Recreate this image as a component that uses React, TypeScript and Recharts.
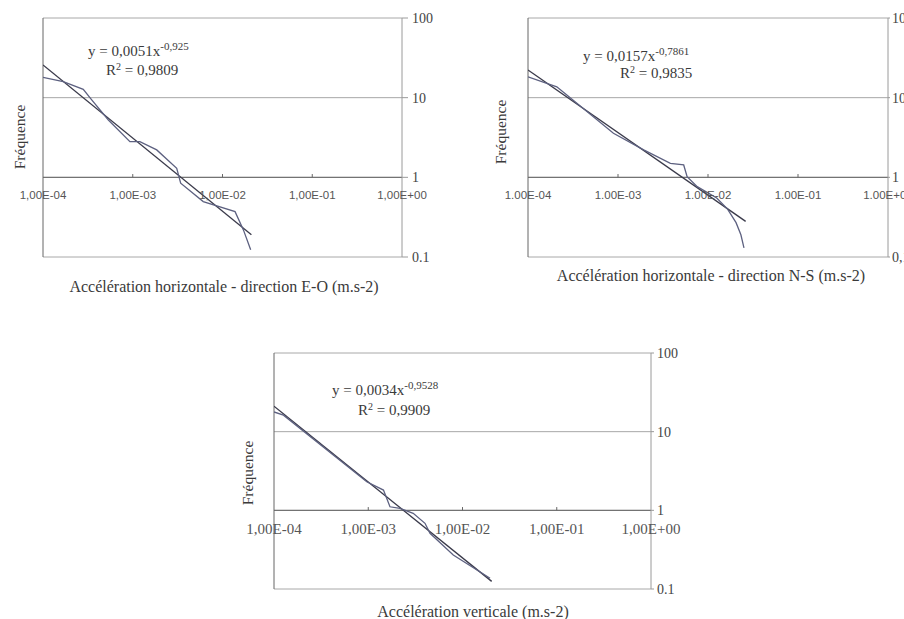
import React from 'react';
import { LineChart, Line, XAxis, YAxis, CartesianGrid, ReferenceLine, ReferenceDot } from 'recharts';

// Shared axis values
const accelTicks = [1e-4, 1e-3, 1e-2, 1e-1, 1];
const minorTickAccel = [1e-3, 1e-2, 1e-1];
const freqTicks = [0.1, 1, 10, 100];
const yLabel = 'Fréquence';

// Panel 1 : E-O
const eoAccel = [1e-4, 1.68e-4, 2.81e-4, 3.49e-4, 5.35e-4, 9.3e-4, 1.2e-3, 1.85e-3, 3.09e-3, 3.42e-3, 6.1e-3, 0.0138, 0.0171, 0.0206];
const eoFreq = [18.0, 15.9, 12.7, 9.36, 5.25, 2.8, 2.8, 2.21, 1.3, 0.843, 0.496, 0.371, 0.219, 0.123];
const eoTrendAccel = [1e-4, 0.021];
const eoTrendFreq = [25.7, 0.19];
const eoXTickLabels = ['1,00E-04', '1,00E-03', '1,00E-02', '1,00E-01', '1,00E+00'];
const eoYTickLabels = ['0.1', '1', '10', '100'];
const eoTitle = 'Accélération horizontale - direction E-O (m.s-2)';
const eoEq = 'y = 0,0051x';
const eoExp = '-0,925';
const eoR2 = '0,9809';

// Panel 2 : N-S
const nsAccel = [1e-4, 2.09e-4, 2.7e-4, 8.9e-4, 1.93e-3, 3.82e-3, 5.37e-3, 5.86e-3, 7.59e-3, 0.0125, 0.0165, 0.0205, 0.0232, 0.0251];
const nsFreq = [18.3, 13.7, 10.8, 3.57, 2.21, 1.5, 1.43, 1.02, 0.764, 0.55, 0.4, 0.27, 0.19, 0.13];
const nsTrendAccel = [1e-4, 0.0262];
const nsTrendFreq = [22.3, 0.28];
const nsXTickLabels = ['1.00E-04', '1.00E-03', '1.00E-02', '1.00E-01', '1.00E+00'];
const nsYTickLabels = ['0,1', '1', '10', '100'];
const nsTitle = 'Accélération horizontale - direction N-S (m.s-2)';
const nsEq = 'y = 0,0157x';
const nsExp = '-0,7861';
const nsR2 = '0,9835';

// Panel 3 : vertical
const vAccel = [1e-4, 1.26e-4, 9.64e-4, 1.45e-3, 1.7e-3, 2.17e-3, 3.0e-3, 4.0e-3, 4.52e-3, 7.98e-3, 0.0196];
const vFreq = [17.8, 16.2, 2.31, 1.81, 1.11, 1.06, 0.916, 0.684, 0.51, 0.271, 0.137];
const vTrendAccel = [1e-4, 0.0204];
const vTrendFreq = [21.1, 0.125];
const vXTickLabels = ['1,00E-04', '1,00E-03', '1,00E-02', '1,00E-01', '1,00E+00'];
const vYTickLabels = ['0.1', '1', '10', '100'];
const vTitle = 'Accélération verticale (m.s-2)';
const vEq = 'y = 0,0034x';
const vExp = '-0,9528';
const vR2 = '0,9909';

const SERIF = '"Liberation Serif", "Times New Roman", serif';
const SANS = '"Liberation Sans", Arial, sans-serif';
const TEXT = '#3a3a3a';

type PanelProps = {
  left: number; top: number; width: number; height: number;
  margin: { top: number; right: number; bottom: number; left: number };
  yAxisWidth: number; yTickSize: number; yTickMargin: number;
  accel: number[]; freq: number[]; trendAccel: number[]; trendFreq: number[];
  xTickLabels: string[]; yTickLabels: string[];
  xFont: string; xFontSize: number; xOffset: number;
};

function Panel(p: PanelProps) {
  const data = p.accel.map((a, i) => ({ a, f: p.freq[i] }));
  const trend = p.trendAccel.map((a, i) => ({ a, f: p.trendFreq[i] }));
  return (
    <div style={{ position: 'absolute', left: p.left, top: p.top }}>
      <LineChart width={p.width} height={p.height} margin={p.margin}>
        <CartesianGrid vertical={false} stroke="#a8a8a8" />
        <XAxis type="number" dataKey="a" scale="log" domain={[1e-4, 1]} ticks={accelTicks} allowDataOverflow hide />
        <YAxis
          orientation="right"
          type="number"
          scale="log"
          domain={[0.1, 100]}
          ticks={freqTicks}
          interval={0}
          allowDataOverflow
          width={p.yAxisWidth}
          tickSize={p.yTickSize}
          tickMargin={p.yTickMargin}
          axisLine={{ stroke: '#9a9a9a' }}
          tickLine={{ stroke: '#9a9a9a' }}
          tick={{ fill: '#444', fontSize: 14, fontFamily: SERIF }}
          tickFormatter={(v: number) => p.yTickLabels[freqTicks.indexOf(v)] ?? ''}
        />
        <ReferenceLine x={1e-4} stroke="#666" />
        <ReferenceLine y={1} stroke="#666" />
        {minorTickAccel.map((v) => (
          <ReferenceLine key={'m' + v} segment={[{ x: v, y: 1 }, { x: v, y: 1.1 }]} stroke="#666" />
        ))}
        {accelTicks.map((v, i) => (
          <ReferenceDot
            key={'l' + v}
            x={v}
            y={1}
            r={0}
            fill="none"
            stroke="none"
            ifOverflow="visible"
            label={{ value: p.xTickLabels[i], position: 'bottom', offset: p.xOffset, fill: '#555', fontSize: p.xFontSize, fontFamily: p.xFont }}
          />
        ))}
        <Line data={trend} dataKey="f" type="linear" stroke="#3a3a4a" strokeWidth={1.3} dot={false} isAnimationActive={false} />
        <Line data={data} dataKey="f" type="linear" stroke="#5d6180" strokeWidth={1.3} dot={false} isAnimationActive={false} />
      </LineChart>
    </div>
  );
}

function Equation({ left, top, eq, exp, r2, rLeft, rTop }: { left: number; top: number; eq: string; exp: string; r2: string; rLeft: number; rTop: number }) {
  return (
    <>
      <div style={{ position: 'absolute', left, top, fontFamily: SERIF, fontSize: 15, lineHeight: '15px', color: TEXT, whiteSpace: 'nowrap' }}>
        {eq}
        <span style={{ position: 'relative', top: -6, fontSize: 11 }}>{exp}</span>
      </div>
      <div style={{ position: 'absolute', left: rLeft, top: rTop, fontFamily: SERIF, fontSize: 15, lineHeight: '15px', color: TEXT, whiteSpace: 'nowrap' }}>
        R<span style={{ position: 'relative', top: -5, fontSize: 10 }}>2</span> = {r2}
      </div>
    </>
  );
}

function VLabel({ cx, cy }: { cx: number; cy: number }) {
  return (
    <div style={{ position: 'absolute', left: cx, top: cy, transform: 'translate(-50%, -50%) rotate(-90deg)', fontFamily: SERIF, fontSize: 15.5, lineHeight: '16px', color: TEXT, whiteSpace: 'nowrap' }}>
      {yLabel}
    </div>
  );
}

function Title({ cx, cy, text }: { cx: number; cy: number; text: string }) {
  return (
    <div style={{ position: 'absolute', left: cx - 250, top: cy - 9, width: 500, textAlign: 'center', fontFamily: SERIF, fontSize: 16, lineHeight: '18px', color: TEXT, whiteSpace: 'nowrap' }}>
      {text}
    </div>
  );
}

export default function App() {
  return (
    <div style={{ position: 'absolute', left: 0, top: 0, width: 904, height: 619, overflow: 'hidden', background: '#fff' }}>
      <Panel
        left={0} top={0} width={460} height={300}
        margin={{ top: 18, right: 8, bottom: 43, left: 43 }}
        yAxisWidth={50} yTickSize={6} yTickMargin={4}
        accel={eoAccel} freq={eoFreq} trendAccel={eoTrendAccel} trendFreq={eoTrendFreq}
        xTickLabels={eoXTickLabels} yTickLabels={eoYTickLabels}
        xFont={SANS} xFontSize={11.5} xOffset={14}
      />
      <Panel
        left={460} top={0} width={444} height={300}
        margin={{ top: 18, right: 0, bottom: 43, left: 68 }}
        yAxisWidth={16} yTickSize={2} yTickMargin={2}
        accel={nsAccel} freq={nsFreq} trendAccel={nsTrendAccel} trendFreq={nsTrendFreq}
        xTickLabels={nsXTickLabels} yTickLabels={nsYTickLabels}
        xFont={SANS} xFontSize={11.5} xOffset={14}
      />
      <Panel
        left={200} top={330} width={500} height={289}
        margin={{ top: 23, right: 4, bottom: 30, left: 74 }}
        yAxisWidth={45} yTickSize={3} yTickMargin={3}
        accel={vAccel} freq={vFreq} trendAccel={vTrendAccel} trendFreq={vTrendFreq}
        xTickLabels={vXTickLabels} yTickLabels={vYTickLabels}
        xFont={SERIF} xFontSize={15} xOffset={13}
      />
      <VLabel cx={20} cy={137} />
      <VLabel cx={501} cy={132} />
      <VLabel cx={248} cy={473} />
      <Equation left={88} top={44} eq={eoEq} exp={eoExp} r2={eoR2} rLeft={106} rTop={63} />
      <Equation left={583} top={49} eq={nsEq} exp={nsExp} r2={nsR2} rLeft={620} rTop={66} />
      <Equation left={332} top={383} eq={vEq} exp={vExp} r2={vR2} rLeft={358} rTop={403} />
      <Title cx={224} cy={287} text={eoTitle} />
      <Title cx={711} cy={276} text={nsTitle} />
      <Title cx={473} cy={612} text={vTitle} />
    </div>
  );
}
